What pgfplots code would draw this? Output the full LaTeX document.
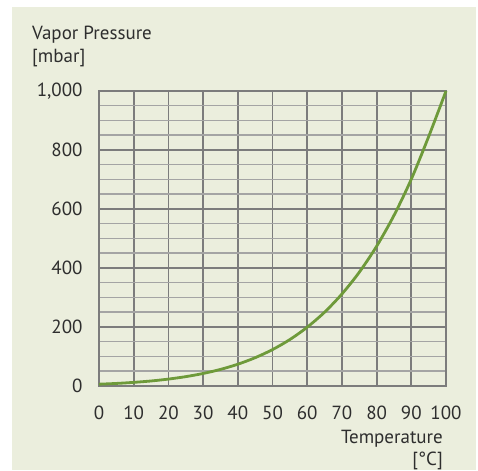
\documentclass[border=0pt]{standalone}
\usepackage{pgfplots}
\pgfplotsset{compat=1.18}
\usepackage{fontspec}
\setmainfont{PT Sans}
\definecolor{bg}{HTML}{EBEEDD}
\definecolor{majgrid}{HTML}{7C7C7C}
\definecolor{mingrid}{HTML}{A4A4A4}
\definecolor{curve}{HTML}{6E9A3A}
\definecolor{txt}{HTML}{2E2E2E}
\begin{document}
\begin{tikzpicture}[x=1pt,y=1pt]
\path[use as bounding box] (0,0) rectangle (478,470);
\fill[bg] (12,0) rectangle (476,463);
\begin{axis}[
  at={(99pt,84pt)}, anchor=south west,
  scale only axis, width=347pt, height=295pt,
  xmin=0, xmax=100, ymin=0, ymax=1000,
  xtick={0,10,...,100}, ytick={0,200,...,1000},
  minor ytick={50,100,150,250,300,350,450,500,550,650,700,750,850,900,950},
  grid=both,
  major grid style={majgrid, line width=1.8pt},
  minor grid style={mingrid, line width=1.5pt},
  axis line style={majgrid, line width=1.8pt},
  major tick length=0pt, minor tick length=0pt,
  tick label style={font=\fontsize{19}{23}\selectfont, text=txt},
  /pgf/number format/assume math mode=true,
  /pgf/number format/1000 sep={,},
  yticklabel style={xshift=-13pt},
  xticklabel style={yshift=-16pt},
  xlabel={Temperature\\{[}°C{]}},
  xlabel style={at={(axis description cs:1,0)}, anchor=north east, align=right,
    inner sep=0pt, yshift=-44pt, xshift=-3pt, font=\fontsize{19}{22}\selectfont, text=txt},
  ylabel={Vapor Pressure\\{[}mbar{]}},
  ylabel style={at={(axis description cs:0,1)}, anchor=north west, align=left, rotate=-90,
    inner sep=0pt, xshift=-67pt, yshift=65pt, font=\fontsize{19}{23}\selectfont, text=txt},
  clip=false,
]
\addplot[curve, line width=2.8pt, line join=round, smooth] coordinates {
(0,6.1) (5,8.7) (10,12.3) (15,17.0) (20,23.4) (25,31.7) (30,42.4) (35,56.2)
(40,73.8) (45,95.9) (50,123.4) (55,157.4) (60,199.3) (65,250.1) (70,311.8)
(75,385.6) (80,473.6) (85,578.1) (90,701.1) (95,845.3) (100,1000)
};
\end{axis}
\end{tikzpicture}
\end{document}
